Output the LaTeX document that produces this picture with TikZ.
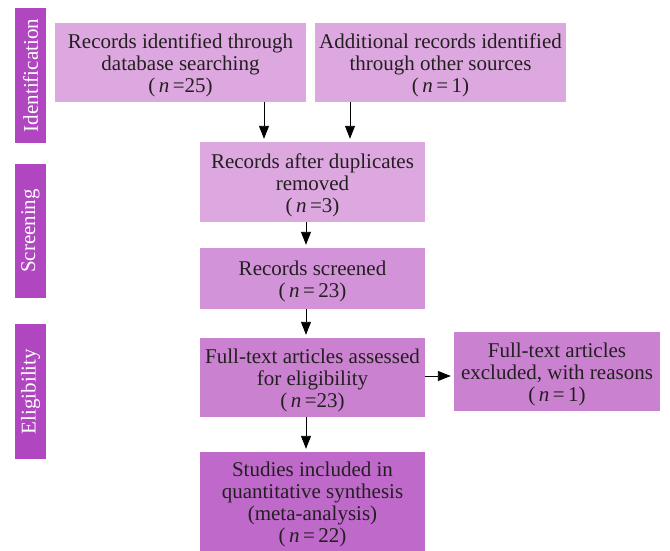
\documentclass[tikz,border=0pt]{standalone}
\usepackage{fontspec}
\setmainfont{Liberation Serif}
\usetikzlibrary{arrows.meta}
\definecolor{fillA}{HTML}{DDA8E0}
\definecolor{fillB}{HTML}{D393D9}
\definecolor{fillC}{HTML}{C981D0}
\definecolor{fillD}{HTML}{BF69CB}
\definecolor{sidec}{HTML}{B046C0}
\definecolor{txt}{HTML}{231F20}
\begin{document}
\begin{tikzpicture}[x=1pt,y=-1pt,
  box/.style={rectangle, inner sep=0pt},
  boxtext/.style={inner sep=0pt, align=center, text=txt, yshift=-3pt,
    font=\fontsize{21}{22}\selectfont},
  side/.style={rectangle, fill=sidec, text=white, rotate=90, inner sep=0pt,
    minimum height=31pt, font=\fontsize{21}{22}\selectfont},
  arr/.style={-{Triangle[length=13pt,width=10pt]}, line width=0.9pt, draw=black, shorten >=3pt}]
\useasboundingbox (0,0) rectangle (670,551);
% side bars
\node[side, minimum width=135pt] (sid) at (30.5,75.5) {Identification};
\node[side, minimum width=134pt] (sscr) at (30.5,231) {Screening};
\node[side, minimum width=135pt] (selg) at (30.5,391.5) {Eligibility};
% boxes
\node[box, fill=fillA, minimum width=251pt, minimum height=79pt] (b1) at (180.5,62.5) {};
\node[boxtext] (t1) at (b1) {Records identified through\\database searching\\(\,\textit{n}\,=25)};
\node[box, fill=fillA, minimum width=251pt, minimum height=79pt] (b2) at (440.5,62.5) {};
\node[boxtext] (t2) at (b2) {Additional records identified\\through other sources\\(\,\textit{n}\,=\,1)};
\node[box, fill=fillA, minimum width=225pt, minimum height=80pt] (b3) at (312.5,182) {};
\node[boxtext] (t3) at (b3) {Records after duplicates\\removed\\(\,\textit{n}\,=3)};
\node[box, fill=fillB, minimum width=225pt, minimum height=61pt] (b4) at (312.5,278.5) {};
\node[boxtext] (t4) at (b4) {Records screened\\(\,\textit{n}\,=\,23)};
\node[box, fill=fillC, minimum width=225pt, minimum height=79pt] (b5) at (312.5,377.5) {};
\node[boxtext] (t5) at (b5) {Full-text articles assessed\\for eligibility\\(\,\textit{n}\,=23)};
\node[box, fill=fillC, minimum width=206pt, minimum height=79pt] (b6) at (557,371.5) {};
\node[boxtext] (t6) at (b6) {Full-text articles\\excluded, with reasons\\(\,\textit{n}\,=\,1)};
\node[box, fill=fillD, minimum width=225pt, minimum height=99pt] (b7) at (312.5,501.5) {};
\node[boxtext] (t7) at (b7) {Studies included in\\quantitative synthesis\\(meta-analysis)\\(\,\textit{n}\,=\,22)};
% arrow columns
\coordinate (xa) at (264,0);
\coordinate (xb) at (350,0);
\coordinate (xc) at (306,0);
\coordinate (ya) at (0,376);
\draw[arr] (b1.south -| xa) -- (b3.north -| xa);
\draw[arr] (b2.south -| xb) -- (b3.north -| xb);
\draw[arr] (b3.south -| xc) -- (b4.north -| xc);
\draw[arr] (b4.south -| xc) -- (b5.north -| xc);
\draw[arr] (b5.south -| xc) -- (b7.north -| xc);
\draw[arr] (b5.east |- ya) -- (b6.west |- ya);
\end{tikzpicture}
\end{document}
